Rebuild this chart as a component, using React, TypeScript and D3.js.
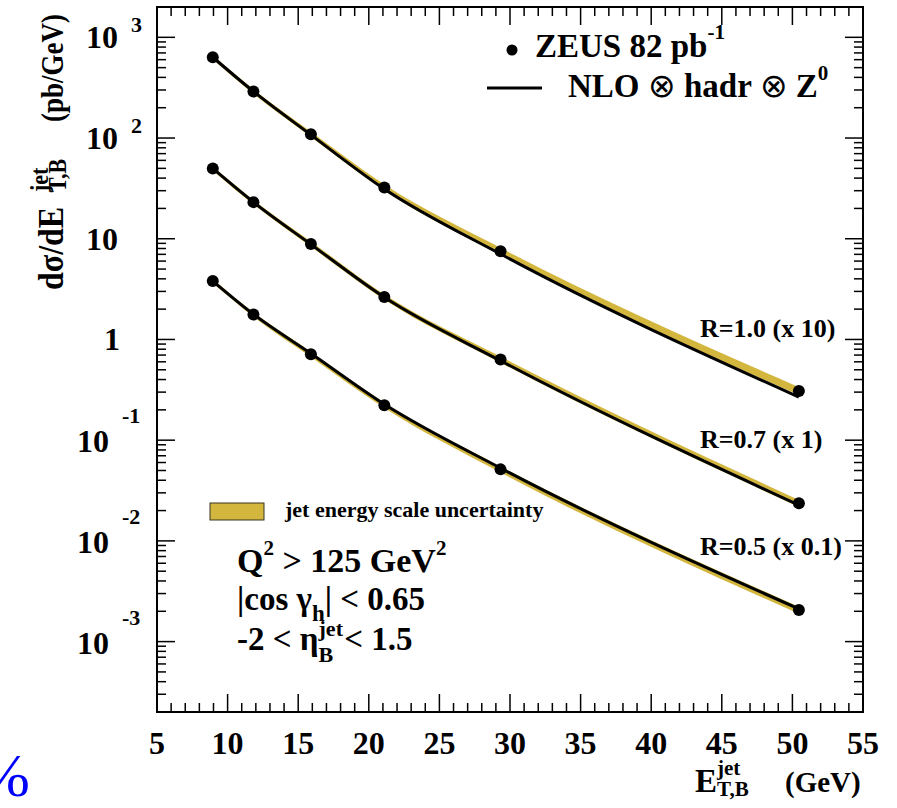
import React from 'react';
import * as d3 from 'd3';

// ---- data ----
const xTickValues = [5, 10, 15, 20, 25, 30, 35, 40, 45, 50, 55];
const yDecades = [-3, -2, -1, 0, 1, 2, 3];
const pointEt = [8.95, 11.83, 15.9, 21.1, 29.33, 50.46];

// measured cross sections (pb/GeV), before display scaling
const r10Data = [63.4, 29.0, 10.9, 3.23, 0.752, 0.0308];
const r07Data = [49.9, 23.1, 8.85, 2.64, 0.632, 0.0236];
const r05Data = [38.0, 17.7, 7.13, 2.22, 0.513, 0.0206];

// NLO x hadr x Z0 predictions
const r10Theory = [63.4, 29.0, 10.75, 3.12, 0.705, 0.0268];
const r07Theory = [49.9, 23.1, 8.8, 2.62, 0.615, 0.0226];
const r05Theory = [38.0, 17.8, 7.25, 2.27, 0.528, 0.0211];

// jet energy scale uncertainty (%)
const r10Jes = [5, 5, 6, 7, 8, 9];
const r07Jes = [5, 5, 6, 6, 7, 8];
const r05Jes = [5, 5, 6, 6, 7, 8];

const seriesScale = [10, 1, 0.1];
const seriesLabels = ['R=1.0 (x 10)', 'R=0.7 (x 1)', 'R=0.5 (x 0.1)'];

const F = "'Liberation Serif','Times New Roman',Times,serif";
const GOLD = '#d2b63e';

export default function App() {
  const left = 157, right = 863, top = 7, bottom = 712;
  const x = d3.scaleLinear().domain([5, 55]).range([left, right]);
  const y = d3.scaleLog().domain([2e-4, 2e3]).range([bottom, top]);

  const series = [
    { data: r10Data, theory: r10Theory, jes: r10Jes, scale: seriesScale[0], label: seriesLabels[0] },
    { data: r07Data, theory: r07Theory, jes: r07Jes, scale: seriesScale[1], label: seriesLabels[1] },
    { data: r05Data, theory: r05Theory, jes: r05Jes, scale: seriesScale[2], label: seriesLabels[2] },
  ];

  const area = d3
    .area<{ e: number; lo: number; hi: number }>()
    .x((d) => x(d.e))
    .y0((d) => y(d.lo))
    .y1((d) => y(d.hi))
    .curve(d3.curveMonotoneX);
  const line = d3
    .line<{ e: number; v: number }>()
    .x((d) => x(d.e))
    .y((d) => y(d.v))
    .curve(d3.curveMonotoneX);

  const xMinor = d3.range(5, 56, 1).filter((v) => v % 5 !== 0);
  const yMinor: number[] = [];
  for (let e = -4; e <= 3; e++) {
    for (let m = 2; m <= 9; m++) {
      const v = m * Math.pow(10, e);
      const py = y(v);
      if (py > top + 1 && py < bottom - 1) yMinor.push(v);
    }
  }
  const MAJ = 18, MIN = 9;

  const tickLines: JSX.Element[] = [];
  xTickValues.forEach((v, i) => {
    const px = x(v);
    tickLines.push(<line key={'xb' + i} x1={px} x2={px} y1={bottom} y2={bottom - MAJ} />);
    tickLines.push(<line key={'xt' + i} x1={px} x2={px} y1={top} y2={top + MAJ} />);
  });
  xMinor.forEach((v, i) => {
    const px = x(v);
    tickLines.push(<line key={'xbm' + i} x1={px} x2={px} y1={bottom} y2={bottom - MIN} />);
    tickLines.push(<line key={'xtm' + i} x1={px} x2={px} y1={top} y2={top + MIN} />);
  });
  yDecades.forEach((e, i) => {
    const py = y(Math.pow(10, e));
    tickLines.push(<line key={'yl' + i} x1={left} x2={left + MAJ} y1={py} y2={py} />);
    tickLines.push(<line key={'yr' + i} x1={right} x2={right - MAJ} y1={py} y2={py} />);
  });
  yMinor.forEach((v, i) => {
    const py = y(v);
    tickLines.push(<line key={'ylm' + i} x1={left} x2={left + MIN} y1={py} y2={py} />);
    tickLines.push(<line key={'yrm' + i} x1={right} x2={right - MIN} y1={py} y2={py} />);
  });

  const yLabels: JSX.Element[] = [];
  yDecades.forEach((e, i) => {
    const py = y(Math.pow(10, e));
    if (e === 0) {
      yLabels.push(
        <text key={'yl' + i} x={120} y={py + 11} textAnchor="end" fontSize={32}>1</text>
      );
    } else if (e === 1) {
      yLabels.push(
        <text key={'yl' + i} x={118} y={py + 11} textAnchor="end" fontSize={32}>10</text>
      );
    } else if (e > 1) {
      yLabels.push(
        <g key={'yl' + i}>
          <text x={118} y={py + 11} textAnchor="end" fontSize={32}>10</text>
          <text x={131} y={py - 5} fontSize={22}>{String(e)}</text>
        </g>
      );
    } else {
      yLabels.push(
        <g key={'yl' + i}>
          <text x={109} y={py + 12} textAnchor="end" fontSize={32}>10</text>
          <text x={122} y={py - 17} fontSize={22}>{String(e)}</text>
        </g>
      );
    }
  });

  const labelY = [337, 448, 555];

  return (
    <svg width={897} height={808} style={{ display: 'block', position: 'absolute', left: 0, top: 0 }}>
      <rect x={0} y={0} width={897} height={808} fill="#fff" />
      <g fontFamily={F} fontWeight="bold" fill="#000">
        {series.map((s, si) => (
          <path
            key={'band' + si}
            d={
              area(
                s.data.map((d, i) => ({
                  e: pointEt[i],
                  lo: d * s.scale * (1 - s.jes[i] / 100),
                  hi: d * s.scale * (1 + s.jes[i] / 100),
                }))
              ) || ''
            }
            fill={GOLD}
            stroke="none"
          />
        ))}
        {series.map((s, si) => (
          <path
            key={'th' + si}
            d={line(s.theory.map((v, i) => ({ e: pointEt[i], v: v * s.scale }))) || ''}
            fill="none"
            stroke="#000"
            strokeWidth={3}
          />
        ))}
        {series.map((s, si) =>
          s.data.map((v, i) => (
            <circle key={'p' + si + '-' + i} cx={x(pointEt[i])} cy={y(v * s.scale)} r={6} fill="#000" />
          ))
        )}

        <g stroke="#000" strokeWidth={1.5}>{tickLines}</g>
        <rect x={left} y={top} width={right - left} height={bottom - top} fill="none" stroke="#000" strokeWidth={2} />

        {xTickValues.map((v, i) => (
          <text key={'xl' + i} x={x(v)} y={754} textAnchor="middle" fontSize={32}>
            {String(v)}
          </text>
        ))}
        {yLabels}

        {/* x title */}
        <text x={695} y={792} fontSize={33}>E</text>
        <text x={717} y={775} fontSize={21}>jet</text>
        <text x={717} y={796} fontSize={21}>T,B</text>
        <text x={785} y={792} fontSize={29}>(GeV)</text>

        {/* y title */}
        <g transform="translate(63,290) scale(1.15,1) rotate(-90)">
          <text x={0} y={0} fontSize={32}>dσ/dE</text>
          <text x={98} y={-13} fontSize={22}>jet</text>
          <text x={98} y={3} fontSize={22}>T,B</text>
          <text x={168} y={0} fontSize={27}>(pb/GeV)</text>
        </g>

        {/* legend */}
        <circle cx={512} cy={50} r={5.5} fill="#000" />
        <text x={535} y={57} fontSize={33}>
          ZEUS 82 pb<tspan fontSize={21} dy={-18}>-1</tspan>
        </text>
        <line x1={487} x2={542} y1={88} y2={88} stroke="#000" strokeWidth={3} />
        <text x={568} y={97} fontSize={33}>
          NLO <tspan fontWeight="normal">⊗</tspan> hadr <tspan fontWeight="normal">⊗</tspan> Z
          <tspan fontSize={21} dy={-17}>0</tspan>
        </text>

        {series.map((s, si) => (
          <text key={'sl' + si} x={700} y={labelY[si]} fontSize={26}>
            {s.label}
          </text>
        ))}

        <rect x={210} y={503} width={54} height={17} fill={GOLD} stroke="#3a3422" strokeWidth={1} />
        <text x={285} y={517} fontSize={22}>jet energy scale uncertainty</text>

        <text x={237} y={572} fontSize={34}>
          Q<tspan fontSize={21} dy={-17}>2</tspan>
          <tspan dy={17}> &gt; 125 GeV</tspan>
          <tspan fontSize={21} dy={-17}>2</tspan>
        </text>
        <text x={237} y={610} fontSize={33}>
          |cos γ<tspan fontSize={23} dy={11}>h</tspan>
          <tspan dy={-11}>| &lt; 0.65</tspan>
        </text>
        <text x={237} y={650} fontSize={33}>
          -2 &lt; η<tspan fontSize={22} dy={-14}>jet</tspan>
          <tspan fontSize={22} dx={-24.4} dy={26}>B</tspan>
          <tspan dx={11} dy={-12}>&lt; 1.5</tspan>
        </text>
      </g>

      <text x={30} y={796} textAnchor="end" fontSize={62} fontFamily={F} fill="#0000ff">%</text>
    </svg>
  );
}
